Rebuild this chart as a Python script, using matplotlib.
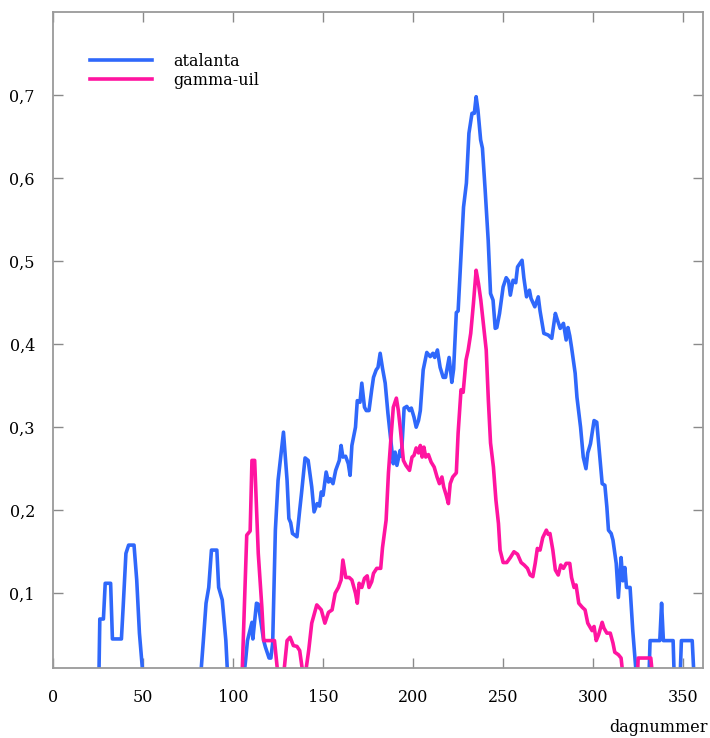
import matplotlib
matplotlib.use('Agg')
import matplotlib.pyplot as plt

# dagnummer / gemiddeld aantal per telling
atalanta_dag = [0, 25.5, 26, 28, 29, 32, 33, 38, 39, 40.5, 42, 45, 46.5, 48, 50,
                82, 83.5, 85, 86.5, 88, 91, 92, 94, 96, 97,
                106, 107, 108, 110.5, 111, 113, 114, 117, 118, 120, 121, 122, 123.5, 125, 128,
                130, 131, 132, 133, 135.5, 137, 138, 140, 141.7, 143.7, 145, 146.7, 148, 149, 150,
                151.7, 153, 154, 155.5, 157, 159, 160, 161, 162.5, 164, 165, 166, 168, 169, 170.5,
                171.5, 173, 174, 175.5, 177, 178, 179.5, 180.5, 181.7, 183, 184.5, 186, 187.6, 189,
                190, 191, 192.8, 193.5, 195, 196.5, 198, 199, 200.5, 201.7, 203, 204, 205.6, 207.6,
                209.5, 211, 212, 213.5, 215, 216.7, 218, 219, 220, 221.5, 222.5, 224, 225, 227, 228,
                229.6, 231, 232.7, 234, 235, 236, 237.5, 238.5, 240, 241.7, 243, 244.4, 245.6, 246.5,
                248, 250, 251.7, 253, 254, 255.5, 257, 258, 260.5, 261.5, 263, 264.6, 265.5, 267.6,
                269.5, 270.5, 272.6, 275, 277, 279, 280, 281.7, 283.5, 285, 286, 287, 288, 290, 291,
                293, 294.5, 296, 297, 298.5, 300.5, 302, 304, 305, 306.5, 307.6, 308.5, 310, 311,
                312.8, 314, 315.5, 316.5, 317.6, 318.5, 320.5, 322, 323.3, 324,
                331, 331.6, 337, 338, 339, 344.4, 345, 348.3, 349, 355, 356, 362]
atalanta = [0, 0, 0.069, 0.069, 0.112, 0.112, 0.045, 0.045, 0.085, 0.148, 0.158, 0.158, 0.116, 0.052, 0,
            0, 0.043, 0.088, 0.107, 0.152, 0.152, 0.107, 0.092, 0.043, 0,
            0, 0.02, 0.043, 0.065, 0.045, 0.088, 0.087, 0.043, 0.035, 0.022, 0.022, 0.04, 0.176, 0.236, 0.294,
            0.236, 0.19, 0.185, 0.172, 0.168, 0.2, 0.22, 0.263, 0.26, 0.228, 0.198, 0.208, 0.205, 0.222, 0.218,
            0.246, 0.234, 0.238, 0.232, 0.248, 0.26, 0.278, 0.264, 0.265, 0.256, 0.242, 0.278, 0.3, 0.332, 0.33,
            0.353, 0.324, 0.32, 0.32, 0.345, 0.36, 0.369, 0.372, 0.389, 0.371, 0.353, 0.317, 0.284, 0.256,
            0.27, 0.254, 0.272, 0.265, 0.323, 0.325, 0.32, 0.323, 0.312, 0.3, 0.308, 0.32, 0.369, 0.39,
            0.385, 0.389, 0.384, 0.393, 0.372, 0.36, 0.36, 0.372, 0.384, 0.354, 0.37, 0.438, 0.44, 0.525, 0.565,
            0.594, 0.654, 0.678, 0.678, 0.698, 0.682, 0.646, 0.636, 0.586, 0.525, 0.461, 0.453, 0.419, 0.42,
            0.437, 0.469, 0.48, 0.476, 0.459, 0.477, 0.474, 0.493, 0.501, 0.48, 0.457, 0.465, 0.455, 0.445,
            0.457, 0.44, 0.413, 0.411, 0.407, 0.437, 0.43, 0.419, 0.425, 0.405, 0.42, 0.41, 0.396, 0.365, 0.336,
            0.3, 0.264, 0.25, 0.269, 0.28, 0.308, 0.306, 0.256, 0.232, 0.23, 0.204, 0.176, 0.172, 0.164,
            0.136, 0.095, 0.143, 0.115, 0.131, 0.107, 0.107, 0.055, 0.02, 0,
            0, 0.043, 0.043, 0.088, 0.043, 0.043, 0, 0, 0.043, 0.043, 0, 0]

gammauil_dag = [0, 105, 107.6, 109.5, 110.5, 112, 114, 116, 117, 123, 125, 128, 130, 131.7, 133.5,
                135.5, 137, 139, 140, 142, 143.7, 146.5, 149, 151, 153, 155, 156.7, 158.5, 160, 161,
                162.6, 164.5, 166, 168, 169, 170, 171.5, 173, 174.5, 175.5, 177, 178, 179.8, 182, 183,
                185, 186.3, 187.6, 189, 190.7, 191.8, 193, 194.6, 196, 198, 199.4, 200.5, 201.7, 203,
                204, 205, 206, 207, 208.5, 210, 211.7, 213.3, 214.6, 216, 217, 218.4, 219.6, 220.6, 222,
                224, 225, 226.6, 227.8, 229.4, 230.6, 232, 233.5, 235, 236.3, 237.6, 239, 240.6, 241.8,
                243, 244.6, 246, 247.4, 248.3, 250, 252, 254, 256, 258, 260, 261.7, 263.5, 265, 266.5,
                267.8, 269, 270.5, 272, 274, 275, 276, 277.6, 279, 280.6, 282, 283.5, 285, 287, 288,
                289.4, 290.5, 292, 294, 295.5, 297, 299.4, 300.5, 301.7, 303, 305, 306, 307.6, 309.5,
                311, 312, 314, 315.5, 316.6, 324.6, 325, 332, 333, 362]
gammauil = [0, 0, 0.17, 0.175, 0.26, 0.26, 0.148, 0.083, 0.043, 0.043, 0, 0, 0.043, 0.047, 0.037,
            0.036, 0.031, 0, 0, 0.031, 0.064, 0.086, 0.08, 0.064, 0.077, 0.08, 0.1, 0.107, 0.116, 0.14,
            0.119, 0.119, 0.116, 0.1, 0.088, 0.112, 0.107, 0.118, 0.121, 0.107, 0.114, 0.124, 0.13, 0.13, 0.155,
            0.188, 0.245, 0.284, 0.324, 0.335, 0.32, 0.296, 0.26, 0.254, 0.248, 0.264, 0.266, 0.275, 0.269,
            0.278, 0.264, 0.276, 0.264, 0.267, 0.258, 0.252, 0.24, 0.232, 0.24, 0.228, 0.218, 0.208, 0.232, 0.24,
            0.245, 0.293, 0.345, 0.342, 0.381, 0.393, 0.413, 0.449, 0.489, 0.473, 0.453, 0.425, 0.393, 0.332,
            0.281, 0.252, 0.212, 0.184, 0.152, 0.137, 0.137, 0.143, 0.15, 0.147, 0.137, 0.134, 0.13, 0.122, 0.12,
            0.136, 0.154, 0.152, 0.167, 0.176, 0.171, 0.172, 0.152, 0.128, 0.122, 0.134, 0.13, 0.136, 0.136, 0.119,
            0.107, 0.11, 0.088, 0.083, 0.08, 0.064, 0.055, 0.06, 0.043, 0.05, 0.065, 0.058, 0.052, 0.052,
            0.04, 0.029, 0.026, 0.022, 0, 0, 0.022, 0.022, 0, 0]

xticks = [0, 50, 100, 150, 200, 250, 300, 350]
yticks = [0.1, 0.2, 0.3, 0.4, 0.5, 0.6, 0.7]
ylabels = ['0,1', '0,2', '0,3', '0,4', '0,5', '0,6', '0,7']

plt.rcParams['font.family'] = 'DejaVu Serif'
plt.rcParams['font.size'] = 11.5

fig = plt.figure(figsize=(7.10, 7.38), dpi=100)
ax = fig.add_axes([53 / 710, 70 / 738, 650 / 710, 656 / 738])

ax.plot(atalanta_dag, atalanta, color='#2f68fb', lw=2.6, label='atalanta')
ax.plot(gammauil_dag, gammauil, color='#ff14a0', lw=2.6, label='gamma-uil')

ax.set_xlim(0, 361)
ax.set_ylim(0.01, 0.8)
ax.set_xticks(xticks)
ax.set_yticks(yticks)
ax.set_yticklabels(ylabels)

for s in ax.spines.values():
    s.set_color('#9a9a9a')
    s.set_linewidth(1.3)
ax.tick_params(direction='in', length=7, width=1, color='#8a8a8a',
               top=True, right=True, labelsize=11.5, colors='#8a8a8a', labelcolor='black')
ax.tick_params(axis='x', pad=15)
ax.tick_params(axis='y', pad=13)

fig.text(0.997, 0.003, 'dagnummer', ha='right', va='bottom', fontsize=11.5)

ax.legend(loc='upper left', bbox_to_anchor=(0.035, 0.96), frameon=False,
          handlelength=3.9, handletextpad=1.3, labelspacing=0.15, fontsize=11.5)

fig.savefig('out.png', dpi=100)
